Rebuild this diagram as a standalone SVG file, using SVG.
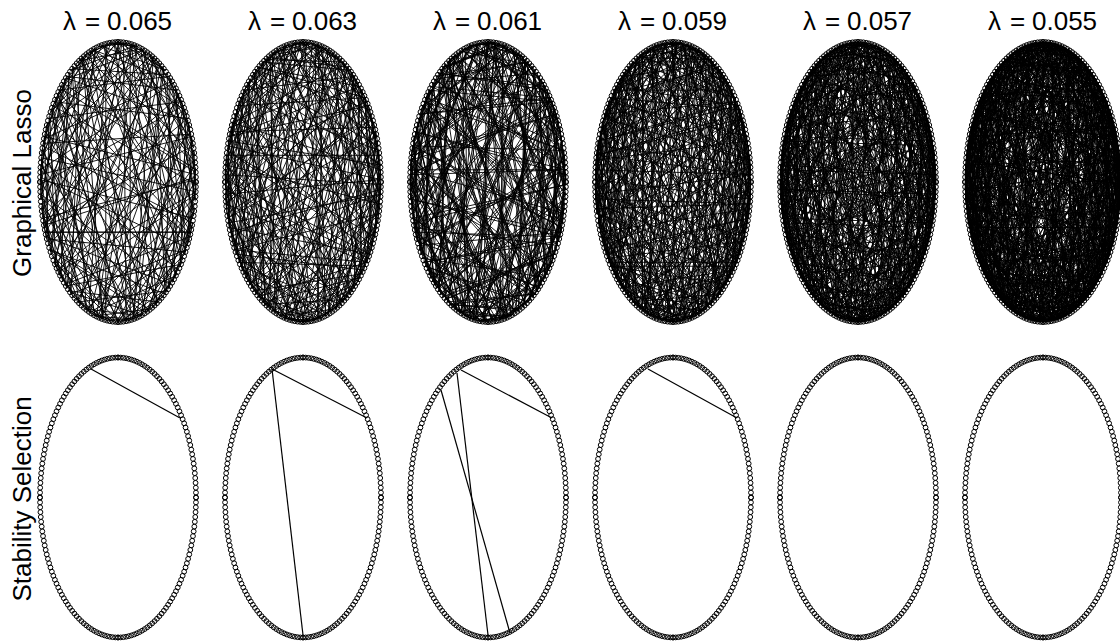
<svg xmlns="http://www.w3.org/2000/svg" width="1120" height="643" viewBox="0 0 1120 643">
<style>
.t{font-family:"Liberation Sans",Arial,sans-serif;font-size:26px;fill:#000}
.nd{fill:none;stroke:#000;stroke-width:1}
.ch{fill:none;stroke:#000;stroke-width:0.9;vector-effect:non-scaling-stroke}
.e{stroke:#000;stroke-width:1.2;fill:none}
</style>
<defs>
<path id="ch" class="ch" d="M100 0L99.76 6.98M-74.31 66.91L-80.9 58.78M10.45 -99.45L24.19 -97.03M58.78 80.9L43.84 89.88M-97.81 -20.79L-91.35 -40.67M86.6 -50L97.03 -24.19M-30.9 95.11L-58.78 80.9M-40.67 -91.35L-6.98 -99.76M91.35 40.67L69.47 71.93M-95.11 30.9L-99.45 -10.45M50 -86.6L82.9 -55.92M20.79 97.81L-27.56 96.13M-80.9 -58.78L-40.67 -91.35M99.45 -10.45L89.88 43.84M-66.91 74.31L-97.03 24.19M0 -100L58.78 -80.9M66.91 74.31L3.49 99.94M-99.45 -10.45L-66.91 -74.31M80.9 -58.78L99.03 13.92M-20.79 97.81L-84.8 52.99M-50 -86.6L30.9 -95.11M95.11 30.9L37.46 92.72M-91.35 40.67L-88.29 -46.95M40.67 -91.35L97.81 -20.79M30.9 95.11L-61.57 78.8M-86.6 -50L0 -100M97.81 -20.79L64.28 76.6M-58.78 80.9L-98.48 -17.36M-10.45 -99.45L86.6 -50M74.31 66.91L-34.2 93.97M-100 0L-34.2 -93.97M74.31 -66.91L86.6 50M-10.45 99.45L-98.48 17.36M-58.78 -80.9L64.28 -76.6M97.81 20.79L0 100M-86.6 50L-61.57 -78.8M30.9 -95.11L97.81 20.79M40.67 91.35L-88.29 46.95M-91.35 -40.67L37.46 -92.72M95.11 -30.9L30.9 95.11M-50 86.6L-84.8 -52.99M-20.79 -97.81L99.03 -13.92M80.9 58.78L-66.91 74.31M-99.45 10.45L3.49 -99.94M66.91 -74.31L61.57 78.8M0 100L-97.03 -24.19M-66.91 -74.31L89.88 -43.84M99.45 10.45L-40.67 91.35M-80.9 58.78L-27.56 -96.13M20.79 -97.81L82.9 55.92M50 86.6L-99.45 10.45M-95.11 -30.9L69.47 -71.93M91.35 -40.67L-6.98 99.76M-40.67 91.35L-58.78 -80.9M-30.9 -95.11L97.03 24.19M86.6 50L-91.35 40.67M-97.81 20.79L43.84 -89.88M58.78 -80.9L24.19 97.03M10.45 99.45L-80.9 -58.78M-74.31 -66.91L99.76 -6.98M99.76 6.98L-76.6 64.28M-78.8 61.57L17.36 -98.48M17.36 -98.48L50 86.6M52.99 84.8L-93.97 -34.2M-96.13 -27.56L93.97 -34.2M89.88 -43.84L-52.99 84.8M-37.46 92.72L-13.92 -99.03M-34.2 -93.97L74.31 66.91M88.29 46.95L-99.94 -3.49M-97.03 24.19L78.8 -61.57M55.92 -82.9L-20.79 97.81M13.92 99.03L-46.95 -88.29M-76.6 -64.28L92.72 37.46M99.94 -3.49L-95.11 30.9M-71.93 69.47L52.99 -84.8M6.98 -99.76L10.45 99.45M61.57 78.8L-71.93 -69.47M-98.48 -17.36L99.76 6.98M84.8 -52.99L-80.9 58.78M-27.56 96.13L24.19 -97.03"/>
<g id="q">
<circle class="nd" cx="78" cy="0" r="2.4"/><circle class="nd" cx="77.95" cy="4.89" r="2.4"/><circle class="nd" cx="77.81" cy="9.77" r="2.4"/><circle class="nd" cx="77.57" cy="14.63" r="2.4"/><circle class="nd" cx="77.24" cy="19.48" r="2.4"/><circle class="nd" cx="76.82" cy="24.31" r="2.4"/><circle class="nd" cx="76.3" cy="29.11" r="2.4"/><circle class="nd" cx="75.68" cy="33.87" r="2.4"/><circle class="nd" cx="74.98" cy="38.59" r="2.4"/><circle class="nd" cx="74.18" cy="43.26" r="2.4"/><circle class="nd" cx="73.3" cy="47.88" r="2.4"/><circle class="nd" cx="72.32" cy="52.45" r="2.4"/><circle class="nd" cx="71.26" cy="56.94" r="2.4"/><circle class="nd" cx="70.11" cy="61.37" r="2.4"/><circle class="nd" cx="68.87" cy="65.73" r="2.4"/><circle class="nd" cx="67.55" cy="70" r="2.4"/><circle class="nd" cx="66.15" cy="74.19" r="2.4"/><circle class="nd" cx="64.67" cy="78.29" r="2.4"/><circle class="nd" cx="63.1" cy="82.29" r="2.4"/><circle class="nd" cx="61.46" cy="86.19" r="2.4"/><circle class="nd" cx="59.75" cy="89.99" r="2.4"/><circle class="nd" cx="57.96" cy="93.68" r="2.4"/><circle class="nd" cx="56.11" cy="97.25" r="2.4"/><circle class="nd" cx="54.18" cy="100.71" r="2.4"/><circle class="nd" cx="52.19" cy="104.04" r="2.4"/><circle class="nd" cx="50.14" cy="107.25" r="2.4"/><circle class="nd" cx="48.02" cy="110.32" r="2.4"/><circle class="nd" cx="45.85" cy="113.26" r="2.4"/><circle class="nd" cx="43.62" cy="116.07" r="2.4"/><circle class="nd" cx="41.33" cy="118.73" r="2.4"/><circle class="nd" cx="39" cy="121.24" r="2.4"/><circle class="nd" cx="36.62" cy="123.61" r="2.4"/><circle class="nd" cx="34.19" cy="125.83" r="2.4"/><circle class="nd" cx="31.73" cy="127.9" r="2.4"/><circle class="nd" cx="29.22" cy="129.81" r="2.4"/><circle class="nd" cx="26.68" cy="131.56" r="2.4"/><circle class="nd" cx="24.1" cy="133.15" r="2.4"/><circle class="nd" cx="21.5" cy="134.58" r="2.4"/><circle class="nd" cx="18.87" cy="135.84" r="2.4"/><circle class="nd" cx="16.22" cy="136.94" r="2.4"/><circle class="nd" cx="13.54" cy="137.87" r="2.4"/><circle class="nd" cx="10.86" cy="138.64" r="2.4"/><circle class="nd" cx="8.15" cy="139.23" r="2.4"/><circle class="nd" cx="5.44" cy="139.66" r="2.4"/><circle class="nd" cx="2.72" cy="139.91" r="2.4"/><circle class="nd" cx="0" cy="140" r="2.4"/>
</g>
<g id="ring">
<use href="#q"/><use href="#q" transform="scale(-1,1)"/><use href="#q" transform="scale(1,-1)"/><use href="#q" transform="scale(-1,-1)"/>
</g>
</defs>
<rect width="1120" height="643" fill="#fff"/>

<g id="labels">
<text class="t" y="30"><tspan x="63">λ</tspan><tspan x="85">=</tspan><tspan x="107">0.065</tspan></text>
<text class="t" y="30"><tspan x="248">λ</tspan><tspan x="270">=</tspan><tspan x="292">0.063</tspan></text>
<text class="t" y="30"><tspan x="433">λ</tspan><tspan x="455">=</tspan><tspan x="477">0.061</tspan></text>
<text class="t" y="30"><tspan x="618">λ</tspan><tspan x="640">=</tspan><tspan x="662">0.059</tspan></text>
<text class="t" y="30"><tspan x="803">λ</tspan><tspan x="825">=</tspan><tspan x="847">0.057</tspan></text>
<text class="t" y="30"><tspan x="988">λ</tspan><tspan x="1010">=</tspan><tspan x="1032">0.055</tspan></text>
<text class="t" transform="translate(31,183) rotate(-90)" text-anchor="middle">Graphical Lasso</text>
<text class="t" transform="translate(31,499) rotate(-90)" text-anchor="middle">Stability Selection</text>
</g>

<g id="connectors">
<g id="glasso-edges-1" transform="translate(118,182) scale(0.78,1.4)">
<use href="#ch"/><use href="#ch" transform="rotate(121) scale(-1,1)"/><use href="#ch" transform="rotate(239)"/>
</g>
<g id="glasso-edges-2" transform="translate(303,182) scale(0.78,1.4)">
<use href="#ch" transform="rotate(31)"/><use href="#ch" transform="rotate(113) scale(-1,1)"/><use href="#ch" transform="rotate(197)"/><use href="#ch" transform="rotate(287) scale(-1,1)"/>
</g>
<g id="glasso-edges-3" transform="translate(488,182) scale(0.78,1.4)">
<use href="#ch" transform="rotate(57) scale(-1,1)"/><use href="#ch" transform="rotate(131)"/><use href="#ch" transform="rotate(203) scale(-1,1)"/><use href="#ch" transform="rotate(271)"/><use href="#ch" transform="rotate(343) scale(-1,1)"/>
</g>
<g id="glasso-edges-4" transform="translate(673,182) scale(0.78,1.4)">
<use href="#ch" transform="rotate(11)"/><use href="#ch" transform="rotate(71) scale(-1,1)"/><use href="#ch" transform="rotate(133)"/><use href="#ch" transform="rotate(191) scale(-1,1)"/><use href="#ch" transform="rotate(251)"/><use href="#ch" transform="rotate(313) scale(-1,1)"/>
</g>
<g id="glasso-edges-5" transform="translate(858,182) scale(0.78,1.4)">
<use href="#ch" transform="rotate(3)"/><use href="#ch" transform="rotate(49) scale(-1,1)"/><use href="#ch" transform="rotate(93)"/><use href="#ch" transform="rotate(139) scale(-1,1)"/><use href="#ch" transform="rotate(183)"/><use href="#ch" transform="rotate(229) scale(-1,1)"/><use href="#ch" transform="rotate(273)"/><use href="#ch" transform="rotate(319) scale(-1,1)"/>
</g>
<g id="glasso-edges-6" transform="translate(1043,182) scale(0.78,1.4)">
<use href="#ch" transform="rotate(7)"/><use href="#ch" transform="rotate(39) scale(-1,1)"/><use href="#ch" transform="rotate(71)"/><use href="#ch" transform="rotate(103) scale(-1,1)"/><use href="#ch" transform="rotate(137)"/><use href="#ch" transform="rotate(169) scale(-1,1)"/><use href="#ch" transform="rotate(201)"/><use href="#ch" transform="rotate(233) scale(-1,1)"/><use href="#ch" transform="rotate(267)"/><use href="#ch" transform="rotate(299) scale(-1,1)"/><use href="#ch" transform="rotate(331)"/>
</g>
<g id="stability-edges">
<line class="e" x1="91" y1="369" x2="180" y2="418"/>
<line class="e" x1="272" y1="369" x2="367" y2="418"/>
<line class="e" x1="272" y1="369" x2="303" y2="635"/>
<line class="e" x1="461" y1="370" x2="552" y2="418"/>
<line class="e" x1="457" y1="373" x2="488" y2="635"/>
<line class="e" x1="441" y1="390" x2="510" y2="633"/>
<line class="e" x1="648" y1="369" x2="737" y2="418"/>
</g>
</g>

<g id="glasso-nodes-1"><use href="#ring" transform="translate(118,182)"/></g>
<g id="glasso-nodes-2"><use href="#ring" transform="translate(303,182)"/></g>
<g id="glasso-nodes-3"><use href="#ring" transform="translate(488,182)"/></g>
<g id="glasso-nodes-4"><use href="#ring" transform="translate(673,182)"/></g>
<g id="glasso-nodes-5"><use href="#ring" transform="translate(858,182)"/></g>
<g id="glasso-nodes-6"><use href="#ring" transform="translate(1043,182)"/></g>
<g id="stab-nodes-1"><use href="#ring" transform="translate(118,497.5)"/></g>
<g id="stab-nodes-2"><use href="#ring" transform="translate(303,497.5)"/></g>
<g id="stab-nodes-3"><use href="#ring" transform="translate(488,497.5)"/></g>
<g id="stab-nodes-4"><use href="#ring" transform="translate(673,497.5)"/></g>
<g id="stab-nodes-5"><use href="#ring" transform="translate(858,497.5)"/></g>
<g id="stab-nodes-6"><use href="#ring" transform="translate(1043,497.5)"/></g>
</svg>
